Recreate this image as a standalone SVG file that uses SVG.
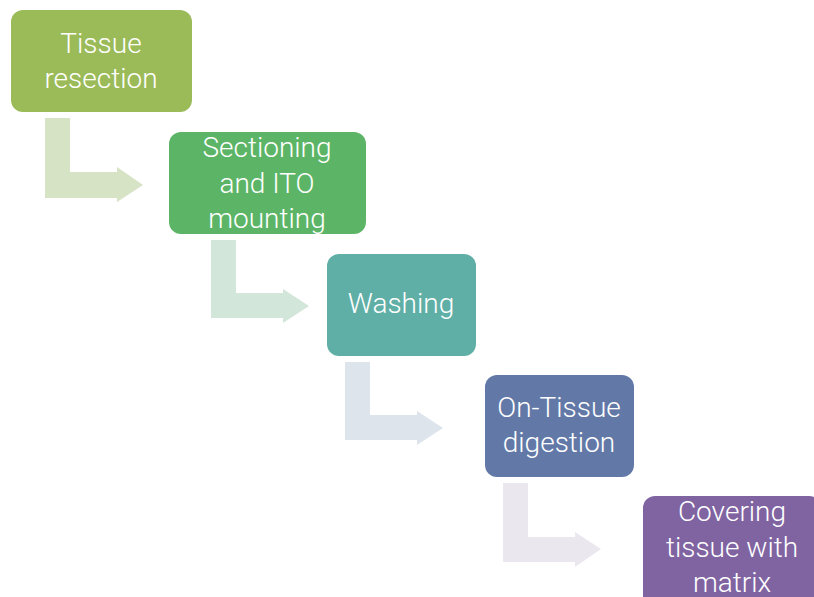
<svg xmlns="http://www.w3.org/2000/svg" width="814" height="597" viewBox="0 0 814 597">
  <style>
    .box { stroke: none; }
    .lbl { font-family: Roboto, "Liberation Sans", sans-serif; font-weight: 300; font-size: 28px; fill: #ffffff; text-anchor: middle; }
  </style>
  <rect width="814" height="597" fill="#ffffff"/>

  <!-- bent arrows between steps -->
  <g id="connectors">
    <path d="M45 118 H70 V172 H117 V167 L143 185 L117 202 V198 H45 Z" fill="#D7E3C5"/>
    <path d="M211 240 H236 V293 H283 V289 L309 306 L283 323 V318 H211 Z" fill="#D2E6D9"/>
    <path d="M345 362 H370 V415 H417 V411 L443 428 L417 445 V440 H345 Z" fill="#DDE4EB"/>
    <path d="M503 483 H528 V537 H575 V532 L601 549 L575 567 V562 H503 Z" fill="#EAE8EE"/>
  </g>

  <g id="step1">
    <rect class="box" x="11" y="10" width="181" height="102" rx="12" fill="#9BBB59"/>
    <text class="lbl" x="101" y="53">Tissue</text>
    <text class="lbl" x="101" y="88">resection</text>
  </g>

  <g id="step2">
    <rect class="box" x="169" y="132" width="197" height="102" rx="12" fill="#5CB567"/>
    <text class="lbl" x="267" y="157">Sectioning</text>
    <text class="lbl" x="267" y="193">and ITO</text>
    <text class="lbl" x="267" y="228">mounting</text>
  </g>

  <g id="step3">
    <rect class="box" x="327" y="254" width="149" height="102" rx="12" fill="#5FAFA6"/>
    <text class="lbl" x="401" y="313">Washing</text>
  </g>

  <g id="step4">
    <rect class="box" x="485" y="375" width="149" height="102" rx="12" fill="#6279A8"/>
    <text class="lbl" x="559" y="417">On-Tissue</text>
    <text class="lbl" x="559" y="452">digestion</text>
  </g>

  <g id="step5">
    <rect class="box" x="643" y="496" width="178" height="112" rx="12" fill="#8064A2"/>
    <text class="lbl" x="732" y="521">Covering</text>
    <text class="lbl" x="732" y="557">tissue with</text>
    <text class="lbl" x="732" y="592">matrix</text>
  </g>
</svg>
